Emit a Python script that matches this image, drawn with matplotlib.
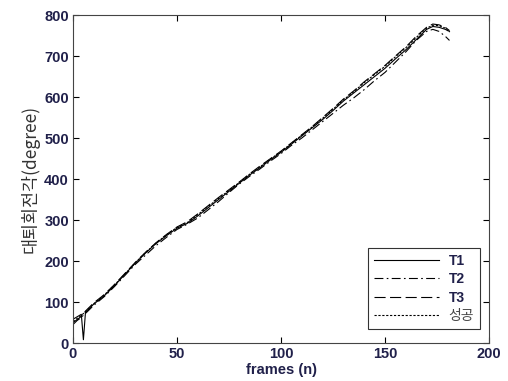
import matplotlib
matplotlib.use("Agg")
import matplotlib.pyplot as plt

frames = [0, 2, 4, 5, 6, 8, 10, 15, 20, 25, 30, 35, 40, 45, 50, 55, 60, 65, 70,
          75, 80, 85, 90, 95, 100, 105, 110, 115, 120, 125, 130, 135, 140, 145,
          150, 155, 160, 165, 170, 173, 176, 179, 181]

t1 = [58, 64, 70, 8, 75, 85, 95, 115, 140, 168, 195, 220, 243, 262, 280, 292,
      310, 330, 350, 370, 390, 410, 428, 447, 465, 485, 505, 525, 545, 567,
      590, 610, 630, 650, 670, 693, 715, 740, 765, 772, 770, 765, 760]
t2 = [45, 55, 62, 68, 72, 82, 92, 113, 138, 165, 192, 215, 238, 258, 277, 290,
      305, 325, 345, 367, 388, 407, 425, 444, 462, 482, 500, 520, 540, 560,
      580, 598, 618, 640, 660, 685, 710, 738, 760, 765, 760, 748, 738]
t3 = [50, 57, 65, 70, 78, 88, 98, 118, 143, 170, 197, 222, 245, 265, 283, 296,
      315, 335, 355, 374, 393, 413, 432, 450, 468, 488, 508, 528, 550, 572,
      595, 615, 637, 657, 677, 700, 722, 748, 770, 778, 776, 770, 762]
success = [52, 60, 67, 72, 76, 86, 96, 117, 142, 168, 196, 221, 244, 264, 282,
           294, 313, 333, 353, 372, 392, 412, 430, 449, 467, 487, 507, 527, 548,
           570, 593, 613, 635, 655, 675, 698, 720, 745, 768, 775, 774, 768, 758]

plt.rcParams['font.family'] = ['Liberation Sans', 'Noto Sans CJK KR', 'DejaVu Sans']
tick_color = '#20204a'

fig = plt.figure(figsize=(5.08, 3.81), dpi=100)
ax = fig.add_axes([0.1437, 0.0997, 0.8189, 0.8609])

ax.plot(frames, t1, color='black', lw=0.8, linestyle='-', label='T1')
ax.plot(frames, t2, color='black', lw=0.8, linestyle=(0, (8, 3, 1.5, 3)), label='T2')
ax.plot(frames, t3, color='black', lw=0.8, linestyle=(0, (10, 4)), label='T3')
ax.plot(frames, success, color='black', lw=0.8, linestyle=(0, (2, 1.5)), label='성공')

ax.set_xlim(0, 200)
ax.set_ylim(0, 800)
ax.set_xticks([0, 50, 100, 150, 200])
ax.set_yticks(range(0, 801, 100))
ax.tick_params(direction='in', length=4, width=0.8, labelsize=10.5,
               labelcolor=tick_color, top=True, right=True, pad=3)
for lbl in ax.get_xticklabels() + ax.get_yticklabels():
    lbl.set_fontweight('bold')
for sp in ax.spines.values():
    sp.set_color('#444444')
    sp.set_linewidth(0.8)

ax.set_xlabel('frames (n)', fontsize=10.5, fontweight='bold', color=tick_color, labelpad=1)
ax.set_ylabel('대퇴회전각(degree)', fontsize=12.5, color='#333333', labelpad=3,
              fontfamily=['Noto Sans CJK KR', 'DejaVu Sans'])

leg = ax.legend(loc='lower right', bbox_to_anchor=(0.994, 0.022), fontsize=10,
                frameon=True, fancybox=False, edgecolor='black', handlelength=4.7,
                labelspacing=0.33, borderpad=0.4, handletextpad=0.7)
leg.get_frame().set_linewidth(0.8)
for txt in leg.get_texts():
    txt.set_color(tick_color)
    txt.set_fontweight('bold')
leg.get_texts()[3].set_fontweight('normal')
leg.get_texts()[3].set_color('#444444')
leg.get_texts()[3].set_fontfamily(['Noto Sans CJK KR'])

fig.savefig('out.png', dpi=100)
